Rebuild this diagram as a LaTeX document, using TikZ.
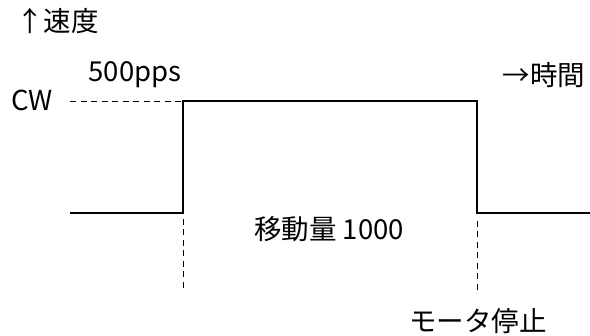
\documentclass[tikz,border=0pt]{standalone}
\usepackage{fontspec}
\setmainfont{Noto Sans CJK JP}
\begin{document}
\begin{tikzpicture}[x=1pt,y=-1pt,
  lbl/.style={inner sep=0pt,font=\fontsize{27.5}{32}\selectfont},
  sig/.style={line width=2.5pt,line join=miter},
  guide/.style={line width=0.9pt,dash pattern=on 6pt off 4.5pt}]
\useasboundingbox (0,0) rectangle (590,336);
\coordinate (l0) at (70,213);
\coordinate (r1) at (183,213);
\coordinate (r2) at (183,101);
\coordinate (f1) at (477,101);
\coordinate (f2) at (477,213);
\coordinate (e) at (590,213);
\draw[sig] (l0) -- (r1) -- (r2) -- (f1) -- (f2) -- (e);
\coordinate (cwd) at (70,101);
\draw[guide] (cwd) -- (r2);
\coordinate (d1a) at (183,219);
\coordinate (d1b) at (183,292);
\coordinate (d2a) at (477,221);
\coordinate (d2b) at (477,291);
\draw[guide] (d1a) -- (d1b);
\draw[guide] (d2a) -- (d2b);
\node[lbl,anchor=west] (vel) at (16,21) {↑速度};
\node[lbl] (cw) at (32,100) {CW};
\node[lbl] (pps) at (135,75) {500pps};
\node[lbl] (time) at (544,75) {→時間};
\node[lbl] (amt) at (329,229) {移動量 1000};
\node[lbl] (stop) at (478,321) {モータ停止};
\end{tikzpicture}
\end{document}
